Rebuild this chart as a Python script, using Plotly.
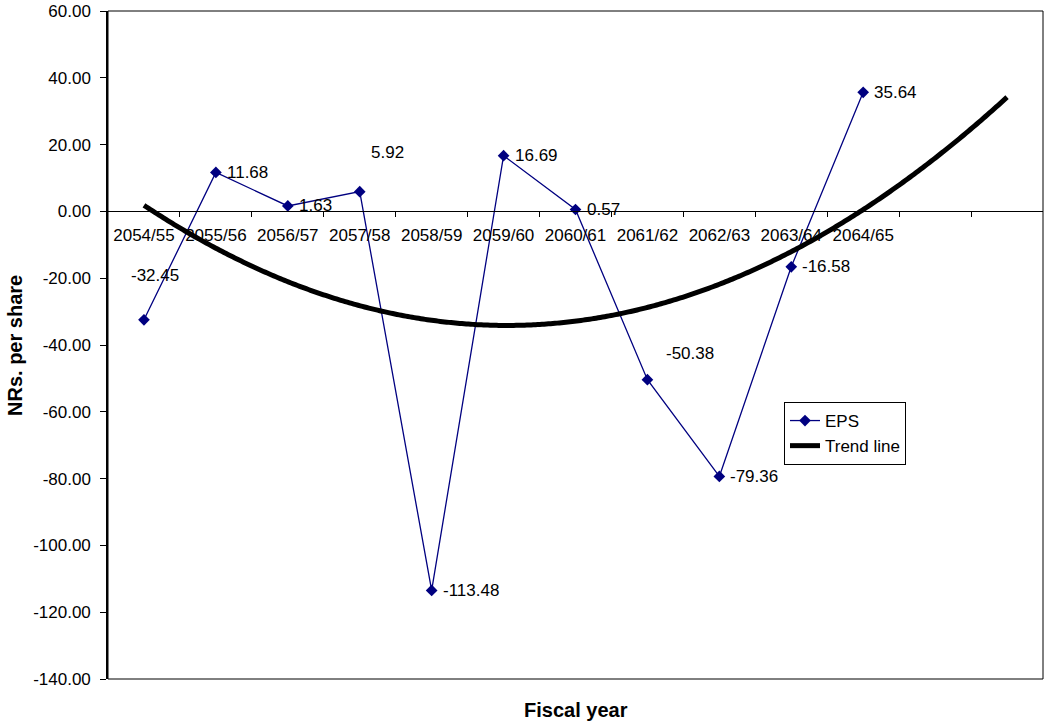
import numpy as np
import plotly.graph_objects as go

# Earnings per share by fiscal year (NRs. per share)
fiscal_years = ["2054/55", "2055/56", "2056/57", "2057/58", "2058/59", "2059/60",
                "2060/61", "2061/62", "2062/63", "2063/64", "2064/65"]
eps = [-32.45, 11.68, 1.63, 5.92, -113.48, 16.69, 0.57, -50.38, -79.36, -16.58, 35.64]
forecast_periods = 2

y_min, y_max, y_step = -140, 60, 20

FONT = "Liberation Sans, Arial, sans-serif"
NAVY = "#000080"

periods = np.arange(1, len(fiscal_years) + 1)
n_slots = len(fiscal_years) + forecast_periods

# Second-order polynomial trend, projected two periods forward
coeffs = np.polyfit(periods, eps, 2)
trend_x = np.linspace(1, n_slots, 400)
trend_y = np.polyval(coeffs, trend_x)

# y ticks written with a plain hyphen for negatives
y_ticks = np.arange(y_min, y_max + y_step, y_step)
y_ticktext = [f"{v:.2f}" for v in y_ticks]

# Data-label placement (pixel offsets from each point)
label_offsets = {0: (11, 44), 3: (28, 39), 7: (43, 26)}

fig = go.Figure()

fig.add_trace(go.Scatter(
    x=periods, y=eps, name="EPS", mode="lines+markers",
    line=dict(color=NAVY, width=1.3),
    marker=dict(symbol="diamond", size=9, color=NAVY),
    hoverinfo="skip",
))

fig.add_trace(go.Scatter(
    x=trend_x, y=trend_y, name="Trend line", mode="lines",
    line=dict(color="black", width=5, simplify=False),
    hoverinfo="skip",
))

annotations = []
for i, (p, v) in enumerate(zip(periods, eps)):
    if i in label_offsets:
        dx, dy = label_offsets[i]
        xanchor = "center"
    else:
        dx, dy = 9, 0
        xanchor = "left"
    annotations.append(dict(
        x=int(p), y=v, xref="x", yref="y", text=f"{v:.2f}", showarrow=False,
        xanchor=xanchor, yanchor="middle", xshift=dx, yshift=dy,
        font=dict(family=FONT, size=17, color="black"),
    ))

# Axis titles
annotations.append(dict(
    x=0.5, y=-0.0464, xref="paper", yref="paper", text="Fiscal year",
    showarrow=False, xanchor="center", yanchor="middle",
    font=dict(family=FONT, size=20, color="black", weight="bold"),
))
annotations.append(dict(
    x=-0.0995, y=0.5, xref="paper", yref="paper", text="NRs. per share",
    showarrow=False, xanchor="center", yanchor="middle", textangle=-90,
    font=dict(family=FONT, size=20, color="black", weight="bold"),
))

zero_pos = (0 - y_min) / (y_max - y_min)

fig.update_layout(
    width=1044, height=722,
    margin=dict(l=108, r=1, t=11, b=43),
    paper_bgcolor="white", plot_bgcolor="white",
    font=dict(family=FONT, size=17, color="black"),
    showlegend=True,
    legend=dict(
        x=(784 - 108) / 935, y=(679 - 402) / 668, xanchor="left", yanchor="top",
        bgcolor="white", bordercolor="black", borderwidth=1,
        font=dict(family=FONT, size=17, color="black"),
        traceorder="normal",
    ),
    xaxis=dict(
        type="linear", range=[0.5, n_slots + 0.5],
        anchor="free", position=zero_pos,
        showline=True, linecolor="black", linewidth=1,
        showgrid=False, zeroline=False,
        tickmode="array", tickvals=periods, ticktext=fiscal_years,
        ticks="outside", ticklen=4, tickcolor="rgba(0,0,0,0)",
        ticklabelstandoff=4,
        tickfont=dict(family=FONT, size=17, color="black"),
        minor=dict(
            tickmode="array",
            tickvals=[k + 0.5 for k in range(1, n_slots)],
            ticks="outside", ticklen=5, tickcolor="black", tickwidth=1,
        ),
    ),
    yaxis=dict(
        range=[y_min, y_max],
        tickmode="array", tickvals=y_ticks, ticktext=y_ticktext,
        showline=True, linecolor="black", linewidth=1.5,
        showgrid=False, zeroline=False,
        ticks="outside", ticklen=6, tickcolor="black", tickwidth=1,
        ticklabelstandoff=6,
        tickfont=dict(family=FONT, size=17, color="black"),
    ),
    annotations=annotations,
    shapes=[dict(
        type="rect", xref="paper", yref="paper", x0=0, x1=1, y0=0, y1=1,
        line=dict(color="black", width=1), layer="above",
    )],
)

fig.write_html("out.html")
